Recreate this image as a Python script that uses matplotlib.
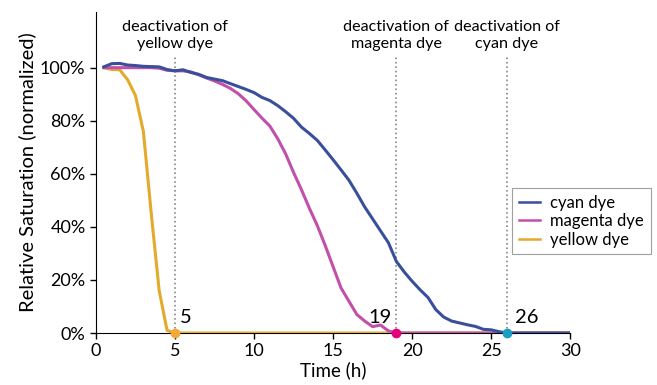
import matplotlib
matplotlib.use('Agg')
import matplotlib.pyplot as plt
import matplotlib.transforms as mtransforms
from matplotlib.ticker import FuncFormatter

plt.rcParams['font.family'] = ['Lato', 'DejaVu Sans']

# time points (h)
t = [0.5, 1, 1.5, 2, 2.5, 3, 3.5, 4, 4.5, 5, 5.5, 6, 6.5, 7, 7.5, 8, 8.5, 9, 9.5, 10,
     10.5, 11, 11.5, 12, 12.5, 13, 13.5, 14, 14.5, 15, 15.5, 16, 16.5, 17, 17.5, 18,
     18.5, 19, 19.5, 20, 20.5, 21, 21.5, 22, 22.5, 23, 23.5, 24, 24.5, 25, 25.5, 26,
     27, 28, 29, 30]

cyan = [100.3, 101.5, 101.6, 101, 100.8, 100.5, 100.4, 100.3, 99.3, 98.8, 99.2, 98.2,
        97.5, 96.3, 95.7, 95.1, 94, 92.9, 91.8, 90.6, 88.8, 87.6, 85.7, 83.4, 80.9, 77.6,
        75.2, 72.6, 69, 65.3, 61.5, 57.6, 52.7, 47.5, 43, 38.5, 34, 27, 23, 19.5, 16.3,
        13.4, 8.8, 6, 4.5, 3.8, 3.1, 2.5, 1.4, 1.2, 0.5, 0, 0, 0, 0, 0]

magenta = [100, 100, 100, 100, 100, 100, 100, 99.8, 99, 98.8, 98.8, 98.4, 97.3, 96.1,
           95, 93.7, 92.2, 90.2, 87.5, 84.2, 81, 78, 73.2, 67.5, 60.5, 54, 47, 40.5, 33,
           25, 17, 12, 7, 4.5, 2.4, 3, 0.8, 0, 0, 0, 0, 0, 0, 0, 0, 0, 0, 0, 0, 0, 0, 0,
           0, 0, 0, 0]

yellow = [100, 99.3, 99.2, 95.5, 89.5, 76, 45, 16, 1, 0, 0, 0, 0, 0, 0, 0, 0, 0, 0, 0,
          0, 0, 0, 0, 0, 0, 0, 0, 0, 0, 0, 0, 0, 0, 0, 0, 0, 0, 0, 0, 0, 0, 0, 0, 0, 0,
          0, 0, 0, 0, 0, 0, 0, 0, 0, 0]

deact_times = [5, 19, 26]
deact_labels = ['deactivation of\nyellow dye', 'deactivation of\nmagenta dye',
                'deactivation of\ncyan dye']
marker_colors = ['#f2a93b', '#e6007e', '#1a9ec2']

c_cyan = '#3a4f9c'
c_mag = '#c24fa9'
c_yel = '#e3aa2b'

fig = plt.figure(figsize=(6.57, 3.85), dpi=100)
ax = fig.add_axes([0.146, 0.135, 0.722, 0.834])

ax.plot(t, yellow, color=c_yel, lw=2.2, label='yellow dye', zorder=3)
ax.plot(t, magenta, color=c_mag, lw=2.2, label='magenta dye', zorder=4)
ax.plot(t, cyan, color=c_cyan, lw=2.2, label='cyan dye', zorder=5)

trans = mtransforms.blended_transform_factory(ax.transData, ax.transAxes)
for xt, lab, mc in zip(deact_times, deact_labels, marker_colors):
    ax.plot([xt, xt], [0, 104], color='#888888', ls=':', lw=1.2, zorder=2)
    ax.text(xt, 0.975, lab, transform=trans, ha='center', va='top', fontsize=11.6,
            linespacing=1.25)
    ax.plot(xt, 0, 'o', color=mc, ms=6, zorder=6, clip_on=False)

ax.text(5.3, 6, '5', fontsize=14.5, ha='left', va='center')
ax.text(18.7, 6, '19', fontsize=14.5, ha='right', va='center')
ax.text(26.5, 6, '26', fontsize=14.5, ha='left', va='center')

ax.set_xlim(0, 30)
ax.set_ylim(0, 121)
ax.set_xticks([0, 5, 10, 15, 20, 25, 30])
ax.set_yticks([0, 20, 40, 60, 80, 100])
ax.yaxis.set_major_formatter(FuncFormatter(lambda v, p: '%d%%' % v))
ax.tick_params(labelsize=13, length=4, width=1)
for s in ['top', 'right']:
    ax.spines[s].set_visible(False)

ax.set_xlabel('Time (h)', fontsize=13.5, labelpad=1)
ax.set_ylabel('Relative Saturation (normalized)', fontsize=14.5, labelpad=3)

h, l = ax.get_legend_handles_labels()
leg = fig.legend(h[::-1], l[::-1], loc='upper left', bbox_to_anchor=(512 / 657, 1 - 188 / 385),
                 fontsize=12, frameon=True, fancybox=False, handlelength=1.3,
                 borderpad=0.4, labelspacing=0.15, handletextpad=0.6, borderaxespad=0)
leg.get_frame().set_edgecolor('#888888')
leg.get_frame().set_linewidth(0.8)
for ln in leg.get_lines():
    ln.set_linewidth(1.8)

fig.savefig('out.png', dpi=100)
